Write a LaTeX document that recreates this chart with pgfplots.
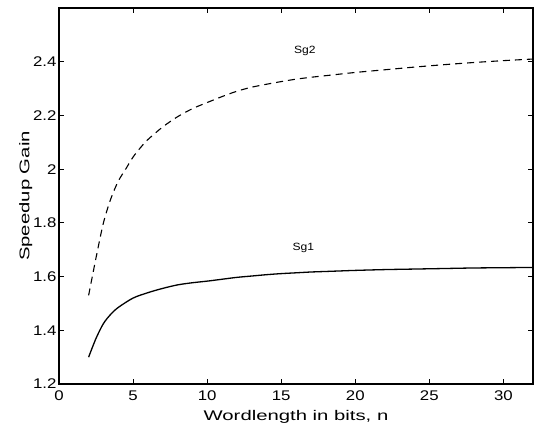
\documentclass[border=0pt]{standalone}
\usepackage{fontspec}
\setmainfont{Liberation Sans}
\newfontfamily\tickfont[FakeStretch=1.2]{Liberation Sans}
\newfontfamily\labfont[FakeStretch=1.45]{Liberation Sans}
\newfontfamily\sgfont[FakeStretch=1.15]{Liberation Sans}
\usepackage{pgfplots}
\pgfplotsset{compat=1.18}
\begin{document}
\begin{tikzpicture}
\begin{axis}[
  scale only axis, width=474pt, height=376pt,
  xmin=0, xmax=32, ymin=1.2, ymax=2.6,
  xtick={0,5,10,15,20,25,30},
  ytick={1.2,1.4,1.6,1.8,2.0,2.2,2.4},
  yticklabels={1.2,1.4,1.6,1.8,2,2.2,2.4},
  tick align=inside, major tick length=5pt,
  tick style={black, line width=0.8pt},
  axis line style={line width=1.1pt},
  /pgf/number format/assume math mode=true,
  ticklabel style={font=\tickfont\fontsize{14}{16}\selectfont},
  xticklabel style={yshift=-3pt},
  yticklabel style={xshift=1pt},
  label style={font=\labfont\fontsize{14}{16}\selectfont},
  xlabel={Wordlength in bits, n}, ylabel={Speedup Gain},
  xlabel style={yshift=-3pt},
  ylabel style={yshift=-6pt},
  clip=false,
]
\addplot[black, line width=1.3pt, smooth] coordinates {
(2,1.30) (2.5,1.37) (3,1.425) (3.5,1.46) (4,1.485) (5,1.52) (6,1.54) (7,1.556)
(8,1.569) (9,1.577) (10,1.583) (11,1.59) (12,1.597) (13,1.602) (14,1.607)
(15,1.611) (16,1.614) (17,1.617) (18,1.619) (19,1.621) (20,1.623) (22,1.626)
(24,1.628) (26,1.630) (28,1.632) (30,1.633) (32,1.634)};
\addplot[black, line width=1.1pt, dash pattern=on 7pt off 5pt, smooth] coordinates {
(2,1.53) (2.5,1.67) (3,1.80) (3.5,1.89) (4,1.955) (4.5,2.00) (5,2.045) (5.5,2.08)
(6,2.11) (7,2.157) (8,2.195) (9,2.225) (10,2.248) (11,2.27) (12,2.29) (13,2.305)
(14,2.316) (15,2.326) (16,2.335) (17,2.342) (18,2.348) (20,2.36) (22,2.37)
(24,2.38) (26,2.389) (28,2.397) (30,2.404) (32,2.41)};
\node[font=\sgfont\fontsize{10.5}{12}\selectfont] at (axis cs:16.6,2.44) {Sg2};
\node[font=\sgfont\fontsize{10.5}{12}\selectfont] at (axis cs:16.5,1.707) {Sg1};
\end{axis}
\path ([xshift=-59pt,yshift=-45pt]current axis.south west) rectangle ([xshift=5pt,yshift=8pt]current axis.north east);
\end{tikzpicture}
\end{document}
